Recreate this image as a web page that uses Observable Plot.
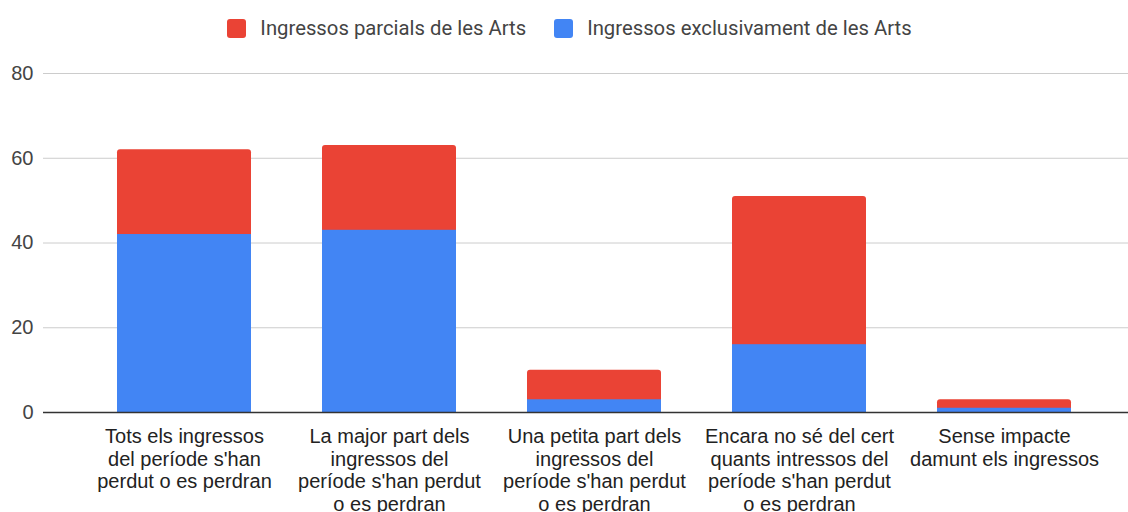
<!DOCTYPE html>
<html>
<head>
<meta charset="utf-8">
<script src="https://cdn.jsdelivr.net/npm/d3@7"></script>
<script src="https://cdn.jsdelivr.net/npm/@observablehq/plot@0.6"></script>
<style>
  html, body { margin: 0; padding: 0; background: #fff; }
  #legend { height: 50px; box-sizing: border-box; padding-top: 19px; display: flex; justify-content: center; margin-left: 11px;
    font-family: Roboto, "Liberation Sans", Arial, sans-serif; font-size: 20.3px; color: #444; }
  .item { display: flex; align-items: center; height: 19px; line-height: 19px; margin: 0 14px; }
  .sw { width: 19px; height: 19px; border-radius: 3px; margin-right: 14px; }
</style>
</head>
<body>
<div id="legend"></div>
<div id="chart"></div>
<script>
const categories = [
  "Tots els ingressos del període s'han perdut o es perdran",
  "La major part dels ingressos del període s'han perdut o es perdran",
  "Una petita part dels ingressos del període s'han perdut o es perdran",
  "Encara no sé del cert quants intressos del període s'han perdut o es perdran",
  "Sense impacte damunt els ingressos"
];
const tickLabels = [
  "Tots els ingressos\ndel període s'han\nperdut o es perdran",
  "La major part dels\ningressos del\nperíode s'han perdut\no es perdran",
  "Una petita part dels\ningressos del\nperíode s'han perdut\no es perdran",
  "Encara no sé del cert\nquants intressos del\nperíode s'han perdut\no es perdran",
  "Sense impacte\ndamunt els ingressos"
];
const seriesNames = ["Ingressos parcials de les Arts", "Ingressos exclusivament de les Arts"];
const seriesColors = ["#ea4335", "#4285f4"];
const partial = [20, 20, 7, 35, 2];
const exclusive = [42, 43, 3, 16, 1];
const yTicks = [0, 20, 40, 60, 80];

// legend
const legend = document.getElementById("legend");
seriesNames.forEach((name, i) => {
  const item = document.createElement("div");
  item.className = "item";
  const sw = document.createElement("span");
  sw.className = "sw";
  sw.style.background = seriesColors[i];
  const t = document.createElement("span");
  t.textContent = name;
  item.appendChild(sw); item.appendChild(t);
  legend.appendChild(item);
});

const totals = categories.map((c, i) => ({category: c, total: partial[i] + exclusive[i]}));
const excl = categories.map((c, i) => ({category: c, value: exclusive[i]}));

const chart = Plot.plot({
  width: 1128,
  height: 462,
  marginLeft: 43,
  marginRight: 0,
  marginTop: 23,
  marginBottom: 100,
  style: {fontFamily: "'Liberation Sans', Arial, sans-serif", fontSize: "20px", background: "white", color: "#222"},
  x: {domain: categories, paddingInner: 0.348, paddingOuter: 0.317, align: 0.56, axis: null},
  y: {domain: [0, 80], axis: null},
  marks: [
    Plot.ruleY(yTicks.filter(d => d > 0), {stroke: "#cccccc", strokeWidth: 1}),
    Plot.barY(totals, {x: "category", y: "total", fill: seriesColors[0], rx: 3}),
    Plot.barY(excl, {x: "category", y: "value", fill: seriesColors[1]}),
    Plot.ruleY([0], {stroke: "#333333", strokeWidth: 1.5}),
    Plot.axisY({ticks: yTicks, tickSize: 0, tickPadding: 10, fill: "#444", fontSize: 20, label: null}),
    Plot.axisX({tickSize: 0, tickPadding: 15, fill: "#222", fontSize: 20, lineHeight: 1.125, label: null,
      tickFormat: d => tickLabels[categories.indexOf(d)]})
  ]
});
document.getElementById("chart").appendChild(chart);
</script>
</body>
</html>
